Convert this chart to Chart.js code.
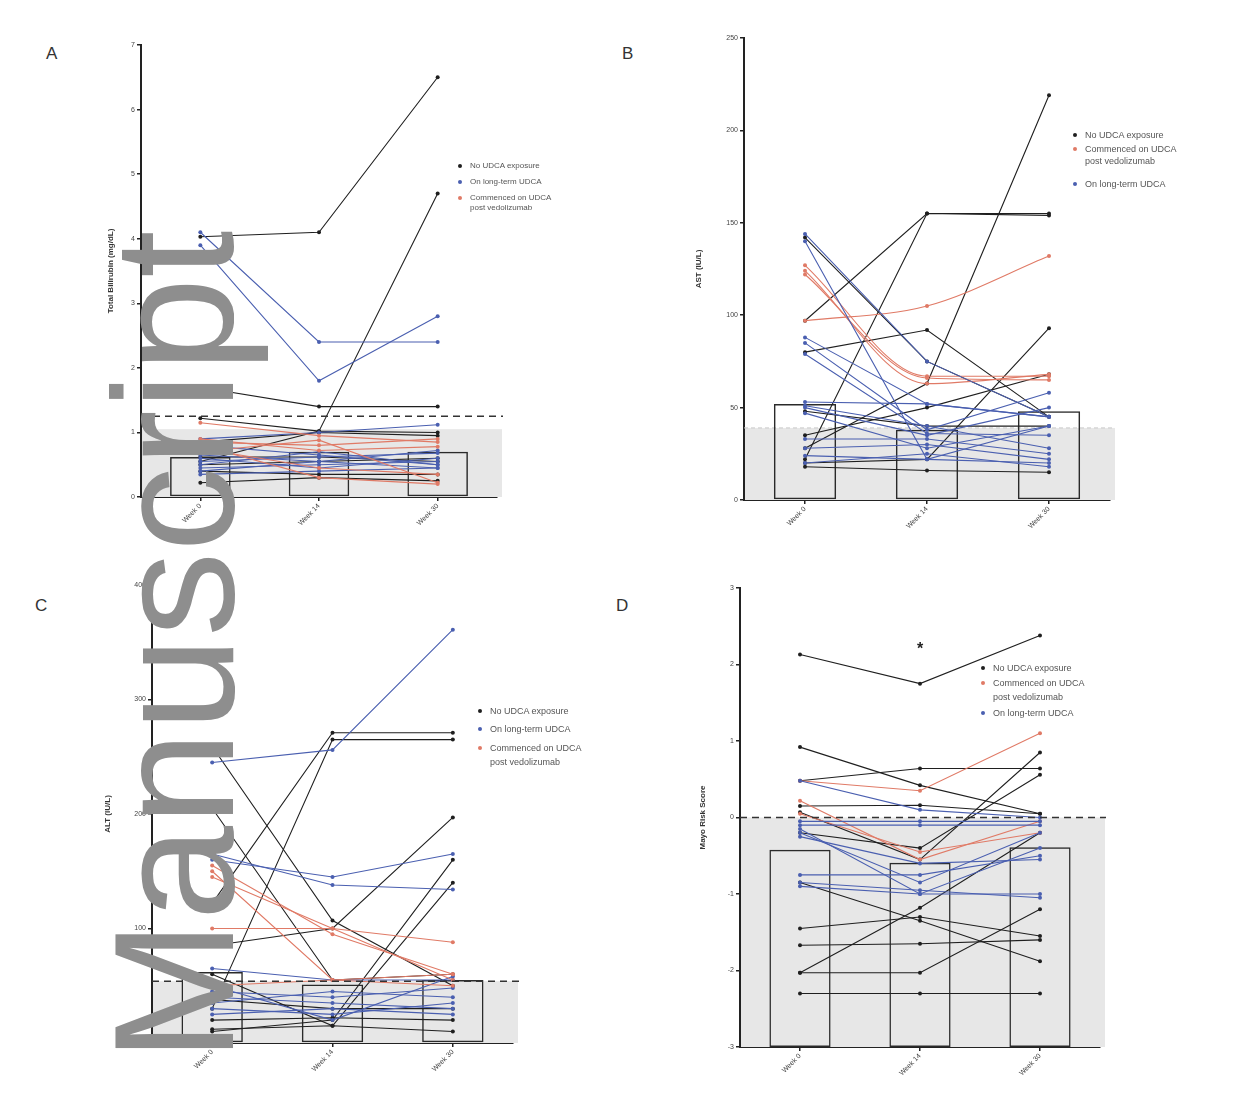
<!DOCTYPE html>
<html><head><meta charset="utf-8">
<script src="https://cdn.jsdelivr.net/npm/chart.js@4.4.0/dist/chart.umd.min.js"></script>
<style>
html,body{margin:0;padding:0;background:#fff;}
#page{position:relative;width:1253px;height:1112px;overflow:hidden;font-family:"Liberation Sans",Arial,sans-serif;}
#page canvas{position:absolute;}
.lbl{position:absolute;font-size:17px;color:#333;line-height:17px;}
.leg{position:absolute;color:#555;white-space:nowrap;}
.mk{position:absolute;width:4px;height:4px;border-radius:50%;}
#wm{position:absolute;left:0;top:0;transform-origin:0 0;font-size:170px;line-height:170px;color:#8e8e8e;white-space:nowrap;font-family:"Liberation Sans",Arial,sans-serif;}
</style></head>
<body><div id="page">
<div class="lbl" style="left:46px;top:45px">A</div>
<div class="lbl" style="left:622px;top:45px">B</div>
<div class="lbl" style="left:35px;top:597px">C</div>
<div class="lbl" style="left:616px;top:597px">D</div>
</div>
<script>
// ---------- shared ----------
const weekLabels = ['Week 0', 'Week 14', 'Week 30'];
const groupNames = ['No UDCA exposure', 'On long-term UDCA', 'Commenced on UDCA post vedolizumab'];

// ---------- A: total bilirubin ----------
const bilirubinNoUDCA = [
  [4.03, 4.10, 6.50], [0.55, 1.02, 4.70], [1.70, 1.40, 1.40], [1.22, 1.02, 1.00],
  [0.50, 0.55, 0.60], [0.22, 0.30, 0.25], [0.40, 0.35, 0.35], [0.62, 0.62, 0.55], [0.85, 1.00, 0.95]
];
const bilirubinLongTerm = [
  [4.10, 2.40, 2.40], [3.90, 1.80, 2.80], [0.65, 0.55, 0.45], [0.55, 0.62, 0.68],
  [0.45, 0.50, 0.55], [0.60, 0.45, 0.60], [0.50, 0.70, 0.50], [0.40, 0.55, 0.72],
  [0.80, 0.65, 0.50], [0.90, 1.00, 1.12], [0.35, 0.40, 0.45]
];
const bilirubinCommenced = [
  [1.15, 0.95, 0.85], [0.85, 0.80, 0.90], [0.80, 0.30, 0.20], [0.70, 0.88, 0.22],
  [0.75, 0.45, 0.35], [0.90, 0.72, 0.78]
];
const bilirubinBars = [0.62, 0.70, 0.70];
const bilirubinShadeTop = 1.05;
const bilirubinDashed = 1.25;
const bilirubinTicks = [0, 7, 1];

// ---------- B: AST ----------
const astNoUDCA = [
  [97, 155, 155], [22, 155, 154], [28, 63, 219], [80, 92, 45], [142, 75, 45],
  [20, 22, 93], [35, 50, 68], [48, 40, 40], [18, 16, 15]
];
const astCommenced = [
  [97, 105, 132], [127, 67, 67], [124, 63, 68], [122, 66, 65]
];
const astLongTerm = [
  [144, 75, 45], [140, 22, 40], [88, 52, 45], [85, 38, 58], [79, 36, 35],
  [53, 52, 45], [51, 40, 28], [50, 35, 50], [47, 28, 40], [33, 33, 25],
  [28, 30, 22], [24, 22, 20], [20, 25, 18]
];
const astBars = [52, 38, 48];
const astShadeTop = 39;
const astTicks = [0, 250, 50];

// ---------- C: ALT ----------
const altNoUDCA = [
  [259, 107, 50], [205, 55, 60], [122, 271, 271], [30, 265, 265], [85, 100, 197],
  [60, 15, 140], [10, 20, 160], [38, 30, 30], [20, 22, 20], [12, 15, 10]
];
const altLongTerm = [
  [245, 256, 361], [165, 138, 134], [160, 145, 165], [65, 55, 55], [45, 40, 48],
  [40, 35, 30], [35, 45, 40], [30, 25, 35], [25, 30, 25], [50, 20, 58]
];
const altCommenced = [
  [155, 95, 60], [100, 100, 88], [145, 100, 55], [150, 55, 50], [50, 55, 60]
];
const altBars = [62, 51, 55];
const altShadeTop = 54;
const altDashed = 54;
const altTicks = [0, 400, 100];

// ---------- D: Mayo risk score ----------
const mayoNoUDCA = [
  [2.13, 1.75, 2.38], [0.92, 0.42, 0.05], [0.48, 0.64, 0.64], [0.07, -0.55, 0.85],
  [-0.20, -0.40, 0.56], [-1.45, -1.30, -1.55], [-1.67, -1.65, -1.60], [-2.03, -1.18, -0.20],
  [-2.03, -2.03, -1.20], [-2.30, -2.30, -2.30], [-0.85, -1.35, -1.88], [0.15, 0.16, 0.05]
];
const mayoCommenced = [
  [0.48, 0.35, 1.10], [0.22, -0.55, -0.05], [0.05, -0.45, -0.20]
];
const mayoLongTerm = [
  [-0.05, -0.05, -0.05], [-0.10, -0.10, -0.10], [-0.20, -0.85, -0.20], [-0.15, -1.00, -0.40],
  [-0.85, -0.95, -1.05], [-0.90, -1.00, -1.00], [-0.75, -0.75, -0.50], [-0.25, -0.60, -0.55],
  [0.48, 0.10, 0.00]
];
const mayoBars = [-0.42, -0.59, -0.39];
const mayoShadeTop = 0;
const mayoDashed = 0;
const mayoTicks = [-3, 3, 1];
const mayoStar = { week: 1, value: 2.25, text: '*' };

// ---------- styling ----------
const FONT = '"Liberation Sans", Arial, sans-serif';
const COL = { black: '#1f1f1f', blue: '#4a5fb0', red: '#e07a66' };
const page = document.getElementById('page');

function lineSets(rows, color, extra) {
  return rows.map(r => Object.assign({
    type: 'line', data: r, borderColor: color, backgroundColor: color,
    pointBackgroundColor: color, pointBorderColor: color, pointRadius: 2, pointBorderWidth: 0,
    borderWidth: 1.1, fill: false, order: 1, tension: 0
  }, extra || {}));
}

const refPlugin = {
  id: 'refPlugin',
  beforeDatasetsDraw(chart) {
    const o = chart.options.plugins.refPlugin; const a = chart.chartArea; const y = chart.scales.y;
    const ctx = chart.ctx; ctx.save();
    const top = y.getPixelForValue(o.shadeTop), bot = y.getPixelForValue(y.min);
    ctx.fillStyle = '#e7e7e7'; ctx.fillRect(a.left + 1, top, a.right - a.left + 4, bot - top);
    if (o.softLine) { ctx.strokeStyle = '#c8c8c8'; ctx.lineWidth = 1; ctx.setLineDash([4, 3]);
      ctx.beginPath(); ctx.moveTo(a.left, top); ctx.lineTo(a.right + 4, top); ctx.stroke(); }
    ctx.restore();
  },
  afterDatasetsDraw(chart) {
    const o = chart.options.plugins.refPlugin; const a = chart.chartArea; const y = chart.scales.y;
    const ctx = chart.ctx; ctx.save();
    if (o.dashed !== undefined) {
      const py = y.getPixelForValue(o.dashed);
      ctx.strokeStyle = '#333'; ctx.lineWidth = 1.5; ctx.setLineDash([7, 5]);
      ctx.beginPath(); ctx.moveTo(a.left, py); ctx.lineTo(a.right + 6, py); ctx.stroke();
    }
    if (o.star) {
      ctx.setLineDash([]); ctx.fillStyle = '#222'; ctx.font = 'bold 16px ' + FONT;
      ctx.textAlign = 'center'; ctx.textBaseline = 'middle';
      ctx.fillText(o.star.text, chart.scales.x.getPixelForValue(o.star.week), y.getPixelForValue(o.star.value) + 4);
    }
    ctx.restore();
  }
};

function panel(p) {
  const T = 12, R = 18, H = 60, B = 4;
  const cw = p.yW + (p.right - p.left) + R, ch = T + (p.bottom - p.top) + H + B;
  const cv = document.createElement('canvas');
  cv.width = cw; cv.height = ch;
  cv.style.left = (p.left - p.yW) + 'px'; cv.style.top = (p.top - T) + 'px';
  cv.style.width = cw + 'px'; cv.style.height = ch + 'px';
  page.appendChild(cv);
  const barData = p.barBase !== undefined ? p.bars.map(v => [p.barBase, v]) : p.bars;
  const datasets = [{
    type: 'bar', data: barData, backgroundColor: 'rgba(0,0,0,0)', borderColor: '#2a2a2a',
    borderWidth: 1.5, barPercentage: 0.51, categoryPercentage: 1, order: 10, borderSkipped: false
  }].concat(p.lines);
  new Chart(cv, {
    data: { labels: weekLabels, datasets },
    plugins: [refPlugin],
    options: {
      responsive: false, animation: false, devicePixelRatio: 1,
      layout: { padding: { top: T, right: R, bottom: B, left: 0 } },
      plugins: { legend: { display: false }, tooltip: { enabled: false },
        refPlugin: { shadeTop: p.shadeTop, dashed: p.dashed, softLine: p.softLine, star: p.star } },
      scales: {
        x: {
          type: 'category', offset: true,
          grid: { display: true, drawOnChartArea: false, drawTicks: true, tickLength: 4, color: '#222', offset: false, lineWidth: 1.5 },
          border: { display: true, color: '#222', width: 2 },
          ticks: { minRotation: 45, maxRotation: 45, font: { size: 7, family: FONT }, color: '#444', padding: 1 },
          afterFit(s) { s.height = H; }
        },
        y: {
          min: p.ticks[0], max: p.ticks[1],
          grid: { display: true, drawOnChartArea: false, drawTicks: true, tickLength: 4, color: '#222', lineWidth: 1.5 },
          border: { display: true, color: '#222', width: 2 },
          ticks: { stepSize: p.ticks[2], font: { size: 7, family: FONT }, color: '#444', padding: 2 },
          title: { display: true, text: p.yTitle, font: { size: 8, weight: 'bold', family: FONT }, color: '#333', padding: { top: 0, bottom: 0 } },
          afterFit(s) { s.width = p.yW; }
        }
      }
    }
  });
}

function legend(items, x, fs) {
  items.forEach(it => {
    if (it.color) {
      const m = document.createElement('div'); m.className = 'mk';
      m.style.left = (x - 12) + 'px'; m.style.top = (it.y - 2) + 'px'; m.style.background = it.color;
      page.appendChild(m);
    }
    const d = document.createElement('div'); d.className = 'leg';
    d.style.left = x + 'px'; d.style.top = (it.y - fs * 0.6) + 'px'; d.style.fontSize = fs + 'px';
    d.style.lineHeight = (fs * 1.2) + 'px'; d.textContent = it.text;
    page.appendChild(d);
  });
}

// A
panel({ left: 141, right: 497, top: 45, bottom: 497, yW: 35, ticks: bilirubinTicks,
  yTitle: 'Total Bilirubin (mg/dL)', bars: bilirubinBars, shadeTop: bilirubinShadeTop, dashed: bilirubinDashed,
  lines: lineSets(bilirubinCommenced, COL.red).concat(lineSets(bilirubinLongTerm, COL.blue), lineSets(bilirubinNoUDCA, COL.black)) });
legend([
  { text: groupNames[0], y: 166, color: COL.black },
  { text: groupNames[1], y: 182, color: COL.blue },
  { text: 'Commenced on UDCA', y: 198, color: COL.red },
  { text: 'post vedolizumab', y: 208 }
], 470, 8);

// B
panel({ left: 744, right: 1110, top: 38, bottom: 500, yW: 50, ticks: astTicks,
  yTitle: 'AST (IU/L)', bars: astBars, shadeTop: astShadeTop, softLine: true,
  lines: lineSets(astLongTerm, COL.blue).concat(lineSets(astCommenced, COL.red, { cubicInterpolationMode: 'monotone' }), lineSets(astNoUDCA, COL.black)) });
legend([
  { text: groupNames[0], y: 135, color: COL.black },
  { text: 'Commenced on UDCA', y: 149, color: COL.red },
  { text: 'post vedolizumab', y: 161 },
  { text: groupNames[1], y: 184, color: COL.blue }
], 1085, 9);

// C
panel({ left: 152, right: 513, top: 585, bottom: 1043, yW: 49, ticks: altTicks,
  yTitle: 'ALT (IU/L)', bars: altBars, shadeTop: altShadeTop, dashed: altDashed,
  lines: lineSets(altCommenced, COL.red).concat(lineSets(altLongTerm, COL.blue), lineSets(altNoUDCA, COL.black)) });
legend([
  { text: groupNames[0], y: 711, color: COL.black },
  { text: groupNames[1], y: 729, color: COL.blue },
  { text: 'Commenced on UDCA', y: 748, color: COL.red },
  { text: 'post vedolizumab', y: 762 }
], 490, 9);

// D
panel({ left: 740, right: 1100, top: 588, bottom: 1047, yW: 42, ticks: mayoTicks,
  yTitle: 'Mayo Risk Score', bars: mayoBars, barBase: mayoTicks[0], shadeTop: mayoShadeTop, dashed: mayoDashed, star: mayoStar,
  lines: lineSets(mayoLongTerm, COL.blue).concat(lineSets(mayoCommenced, COL.red), lineSets(mayoNoUDCA, COL.black)) });
legend([
  { text: groupNames[0], y: 668, color: COL.black },
  { text: 'Commenced on UDCA', y: 683, color: COL.red },
  { text: 'post vedolizumab', y: 697 },
  { text: groupNames[1], y: 713, color: COL.blue }
], 993, 9);

// watermark
const wm = document.createElement('div');
wm.id = 'wm'; wm.textContent = 'Manuscript';
wm.style.transform = 'translate(89px, 1062px) rotate(-90deg)';
page.appendChild(wm);
</script>
</body></html>
